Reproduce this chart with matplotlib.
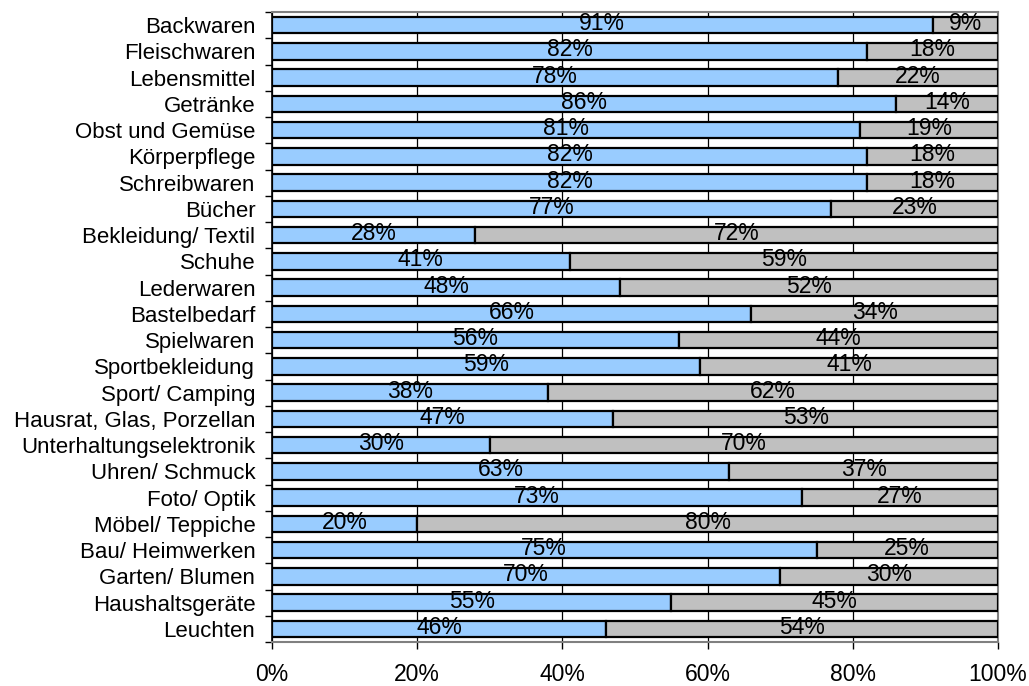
import matplotlib
matplotlib.use("Agg")
import matplotlib.pyplot as plt
import numpy as np

plt.rcParams['font.family'] = ['Liberation Sans', 'DejaVu Sans']

categories = [
    "Backwaren", "Fleischwaren", "Lebensmittel", "Getränke", "Obst und Gemüse",
    "Körperpflege", "Schreibwaren", "Bücher", "Bekleidung/ Textil", "Schuhe",
    "Lederwaren", "Bastelbedarf", "Spielwaren", "Sportbekleidung", "Sport/ Camping",
    "Hausrat, Glas, Porzellan", "Unterhaltungselektronik", "Uhren/ Schmuck",
    "Foto/ Optik", "Möbel/ Teppiche", "Bau/ Heimwerken", "Garten/ Blumen",
    "Haushaltsgeräte", "Leuchten",
]
share_a = [91, 82, 78, 86, 81, 82, 82, 77, 28, 41, 48, 66, 56, 59, 38, 47, 30, 63,
           73, 20, 75, 70, 55, 46]
share_b = [9, 18, 22, 14, 19, 18, 18, 23, 72, 59, 52, 34, 44, 41, 62, 53, 70, 37,
           27, 80, 25, 30, 45, 54]
x_ticks = [0, 20, 40, 60, 80, 100]
x_tick_labels = ["0%", "20%", "40%", "60%", "80%", "100%"]

fig = plt.figure(figsize=(10.29, 6.86), dpi=100)
ax = fig.add_axes([272 / 1029, 1 - 642 / 686, (998 - 272) / 1029, (642 - 12) / 686])

y = np.arange(len(categories))
a = np.array(share_a)
b = np.array(share_b)

ax.barh(y, a, height=0.62, color="#99CCFF", edgecolor="black", linewidth=1.6, zorder=3)
ax.barh(y, b, left=a, height=0.62, color="#C0C0C0", edgecolor="black", linewidth=1.6, zorder=3)

for yi, va_, vb_ in zip(y, a, b):
    ax.text(va_ / 2, yi - 0.06, f"{va_}%", ha="center", va="center", fontsize=16.5, zorder=4)
    ax.text(va_ + vb_ / 2, yi - 0.06, f"{vb_}%", ha="center", va="center", fontsize=16.5, zorder=4)

ax.set_xlim(0, 100)
ax.set_ylim(len(categories) - 0.5, -0.5)

ax.set_xticks(x_ticks)
ax.set_xticklabels(x_tick_labels, fontsize=16.5)
ax.set_yticks(y)
ax.set_yticklabels(categories, fontsize=16)
ax.set_yticks(np.arange(len(categories) + 1) - 0.5, minor=True)
ax.tick_params(axis="y", which="major", length=0, pad=12)
ax.tick_params(axis="y", which="minor", length=5, width=1, color="black")
ax.tick_params(axis="x", which="major", length=5, width=1, pad=10, color="black")

ax.grid(axis="x", color="black", linewidth=0.9, zorder=1)
ax.set_axisbelow(True)

for side in ["top", "right", "bottom"]:
    ax.spines[side].set_color("#808080")
    ax.spines[side].set_linewidth(1.5)
ax.spines["left"].set_color("black")
ax.spines["left"].set_linewidth(1.2)

fig.savefig("out.png", dpi=100)
